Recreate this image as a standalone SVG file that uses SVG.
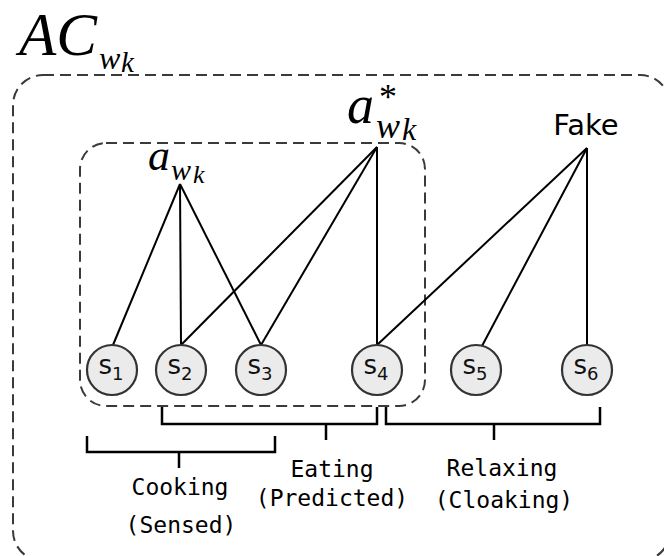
<svg xmlns="http://www.w3.org/2000/svg" width="664" height="556" viewBox="0 0 664 556">
<style>
.box{fill:none;stroke:#3a3a3a;stroke-width:2;stroke-dasharray:11 6}
.edge{stroke:#000;stroke-width:2;fill:none}
.br{stroke:#000;stroke-width:2.5;fill:none}
.node circle{fill:#ebebeb;stroke:#333;stroke-width:2.2}
.node text{font-family:"DejaVu Sans",sans-serif;font-size:26px;fill:#111;text-anchor:middle}
.m{font-family:"Liberation Serif","Times New Roman",serif;font-style:italic;fill:#000}
.up{font-style:normal}
.lbl{font-family:"DejaVu Sans Mono",monospace;font-size:23px;fill:#000;text-anchor:middle}
</style>
<rect width="664" height="556" fill="#fff"/>
<g id="outer-box">
<rect class="box" x="13" y="75" width="657" height="486" rx="30"/>
<text class="m" x="19" y="55" font-size="61">AC<tspan x="99" y="69" font-size="32">w</tspan><tspan x="121" y="72" font-size="29">k</tspan></text>
</g>
<g id="inner-box">
<rect class="box" x="80" y="143" width="345" height="263" rx="26"/>
</g>
<g id="connectors">
<line class="edge" x1="180" y1="184" x2="113" y2="345"/>
<line class="edge" x1="180" y1="184" x2="181" y2="345"/>
<line class="edge" x1="180" y1="184" x2="261" y2="345"/>
<line class="edge" x1="377" y1="147" x2="181" y2="345"/>
<line class="edge" x1="377" y1="147" x2="261" y2="345"/>
<line class="edge" x1="377" y1="147" x2="377" y2="345"/>
<line class="edge" x1="587" y1="148" x2="377" y2="345"/>
<line class="edge" x1="587" y1="148" x2="482" y2="346"/>
<line class="edge" x1="587" y1="148" x2="587" y2="345"/>
</g>
<g id="a_wk">
<text class="m" x="148" y="170" font-size="44">a<tspan x="171" y="180" font-size="30">w</tspan><tspan x="193" y="183" font-size="26">k</tspan></text>
</g>
<g id="a_star_wk">
<text class="m" x="347" y="123" font-size="54">a<tspan class="up" x="379" y="109" font-size="36">*</tspan><tspan x="376" y="138" font-size="36">w</tspan><tspan x="402" y="140" font-size="32">k</tspan></text>
</g>
<g id="fake">
<text x="586" y="135" font-family="DejaVu Sans,sans-serif" font-size="29" text-anchor="middle">Fake</text>
</g>
<g id="s1" class="node"><circle cx="112" cy="370" r="25"/><text x="111" y="374">s<tspan font-size="18" dy="6">1</tspan></text></g>
<g id="s2" class="node"><circle cx="181" cy="370" r="25"/><text x="180" y="374">s<tspan font-size="18" dy="6">2</tspan></text></g>
<g id="s3" class="node"><circle cx="261" cy="370" r="25"/><text x="260" y="374">s<tspan font-size="18" dy="6">3</tspan></text></g>
<g id="s4" class="node"><circle cx="377" cy="370" r="25"/><text x="376" y="374">s<tspan font-size="18" dy="6">4</tspan></text></g>
<g id="s5" class="node"><circle cx="476" cy="370" r="25"/><text x="475" y="374">s<tspan font-size="18" dy="6">5</tspan></text></g>
<g id="s6" class="node"><circle cx="587" cy="370" r="25"/><text x="586" y="374">s<tspan font-size="18" dy="6">6</tspan></text></g>
<g id="cooking">
<path class="br" d="M87,436 V452 H275 V436 M179,452 V468"/>
<text class="lbl" x="180" y="495">Cooking</text>
<text class="lbl" x="181" y="533">(Sensed)</text>
</g>
<g id="eating">
<path class="br" d="M162,407 V424 H377 V407 M326,424 V440"/>
<text class="lbl" x="332" y="477">Eating</text>
<text class="lbl" x="332" y="506">(Predicted)</text>
</g>
<g id="relaxing">
<path class="br" d="M386,407 V424 H600 V407 M494,424 V440"/>
<text class="lbl" x="502" y="476">Relaxing</text>
<text class="lbl" x="504" y="508">(Cloaking)</text>
</g>
</svg>
